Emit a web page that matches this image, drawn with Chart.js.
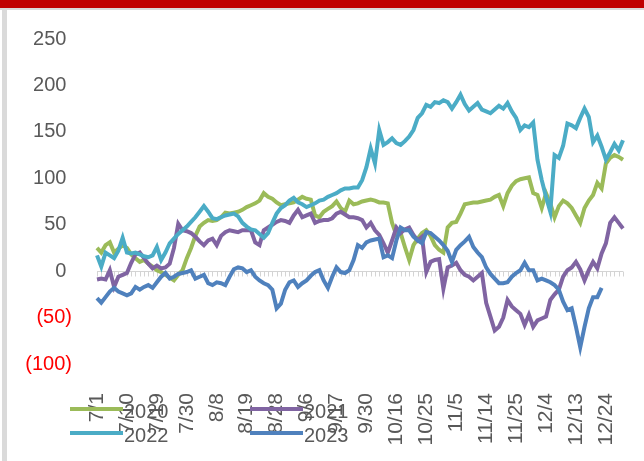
<!DOCTYPE html>
<html>
<head>
<meta charset="utf-8">
<script src="https://cdn.jsdelivr.net/npm/chart.js@4.4.1/dist/chart.umd.min.js"></script>
<style>
  html, body { margin: 0; padding: 0; background: #fff; }
  .wrap { position: relative; width: 644px; height: 461px; overflow: hidden; }
  .top-bar { position: absolute; left: 0; top: 0; width: 644px; height: 8px; background: #c00000; }
  .top-line { position: absolute; left: 0; top: 8px; width: 644px; height: 2px; background: #d9d9d9; }
  .left-bar { position: absolute; left: 2px; top: 10px; width: 5px; height: 451px; background: #dadada; }
</style>
</head>
<body>
<div class="wrap">
  <canvas id="chart"></canvas>
  <div class="top-bar"></div>
  <div class="top-line"></div>
  <div class="left-bar"></div>
</div>
<script>
// x tick labels, one every 7 trading days
const tickLabels = ["7/1", "7/10", "7/19", "7/30", "8/8", "8/19", "8/28", "9/6", "9/17",
  "9/30", "10/16", "10/25", "11/5", "11/14", "11/25", "12/4", "12/13", "12/24"];

const s2020 = [25, 20, 28, 31, 20, 24, 28, 25, 18, 14,
  10, 12, 8, 5, 1, -1, -4, -7, -10, -4,
  1, 14, 25, 38, 48, 52, 55, 54, 55, 58,
  63, 62, 63, 64, 66, 69, 71, 73, 76, 84,
  80, 78, 74, 71, 72, 73, 74, 77, 80, 78,
  77, 60, 58, 64, 67, 70, 75, 68, 64, 76,
  72, 73, 75, 76, 77, 76, 74, 74, 73, 52,
  39, 41, 26, 12, 28, 35, 41, 44, 38, 28,
  23, 20, 47, 52, 53, 62, 72, 73, 74, 74,
  75, 76, 77, 80, 82, 70, 84, 92, 97, 99,
  100, 101, 84, 82, 68, 84, 73, 58, 70, 76,
  73, 68, 60, 52, 68, 76, 82, 95, 89, 116,
  122, 125, 123, 120];

const s2021 = [-9, -8, -9, 1, -17, -6, -4, -2, 9, 18,
  20, 14, 8, 3, 6, 3, 4, 8, 25, 51,
  44, 43, 41, 37, 32, 28, 33, 35, 28, 38,
  42, 44, 43, 42, 44, 44, 44, 31, 28, 44,
  47, 50, 53, 55, 54, 52, 60, 66, 58, 60,
  62, 52, 54, 55, 55, 57, 62, 64, 61, 58,
  58, 57, 55, 47, 52, 44, 39, 30, 20, 33,
  47, 41, 45, 47, 39, 33, 37, -1, 10, 12,
  13, -19, 4, 6, 9, 1, -4, -6, -10, -6,
  -2, -34, -49, -64, -60, -50, -31, -38, -42, -46,
  -58, -47, -60, -53, -51, -49, -31, -25, -20, -6,
  1, 4, 10, 2, -10, 1, 10, 3, 19, 30,
  52, 58, 52, 46];

const s2022 = [17, 5, 20, 17, 14, 22, 36, 20, 19, 20,
  18, 16, 15, 17, 26, 12, 20, 30, 35, 40,
  44, 48, 53, 58, 64, 70, 64, 57, 56, 58,
  60, 61, 62, 59, 52, 48, 45, 44, 40, 36,
  41, 52, 62, 68, 71, 76, 79, 74, 72, 69,
  71, 73, 76, 77, 80, 82, 84, 87, 89, 89,
  90, 90, 98, 112, 132, 116, 152, 136, 139, 143,
  138, 136, 140, 145, 152, 165, 170, 179, 177, 182,
  181, 184, 182, 175, 182, 190, 180, 173, 177, 181,
  174, 172, 170, 174, 178, 175, 181, 172, 165, 152,
  157, 155, 160, 120, 98, 80, 64, 125, 122, 135,
  159, 157, 154, 165, 175, 166, 139, 146, 134, 120,
  128, 137, 130, 141];

const s2023 = [-29, -34, -28, -22, -18, -22, -24, -26, -24, -17,
  -20, -17, -15, -18, -12, -6, -2, -8, -6, -3,
  -2, -1, 1, -8, -6, -4, -13, -15, -12, -13,
  -15, -6, 2, 4, 3, -1, 1, -6, -10, -13,
  -15, -20, -40, -35, -20, -12, -10, -17, -13, -10,
  -5, -1, 1, -10, -18, -6, 4, -1, -2, 1,
  12, 28, 25, 31, 33, 34, 35, 15, 17, 14,
  33, 47, 44, 44, 37, 33, 30, 42, 41, 37,
  33, 28, 22, 10, 23, 28, 32, 37, 26, 20,
  15, 4, -3, -8, -13, -13, -12, -6, -2, 1,
  9, 1, 1, -10, -8, -10, -12, -15, -20, -33,
  -42, -40, -60, -82, -60, -40, -28, -28, -18];

const seriesNames = ["2020", "2021", "2022", "2023"];
const seriesColors = ["#9bbb59", "#8064a2", "#4bacc6", "#4f81bd"];

const labelStep = 7;
const categories = s2020.map((_, i) =>
  i % labelStep === 0 ? (tickLabels[i / labelStep] || "") : ""
);

const textColor = "#595959";
const fontFamily = "'Liberation Sans', Arial, sans-serif";

// light gray zero line with small category ticks, like the excel axis
const zeroAxis = {
  id: "zeroAxis",
  beforeDatasetsDraw(chart) {
    const { ctx, chartArea, scales } = chart;
    const y0 = Math.round(scales.y.getPixelForValue(0)) + 0.5;
    ctx.save();
    ctx.strokeStyle = "#d4d4d4";
    ctx.lineWidth = 1;
    ctx.beginPath();
    ctx.moveTo(chartArea.left, y0);
    ctx.lineTo(chartArea.right, y0);
    categories.forEach((_, i) => {
      const x = Math.round(scales.x.getPixelForValue(i)) + 0.5;
      ctx.moveTo(x, y0);
      ctx.lineTo(x, y0 + 5);
    });
    ctx.stroke();
    ctx.restore();
  },
};

// legend sits on top of the rotated date labels in the original
const overlapLegend = {
  id: "overlapLegend",
  afterDraw(chart) {
    const { ctx } = chart;
    const spots = [[70, 409], [250, 409], [70, 433], [250, 433]];
    ctx.save();
    ctx.font = "20px " + fontFamily;
    ctx.textBaseline = "middle";
    ctx.fillStyle = textColor;
    chart.data.datasets.forEach((ds, i) => {
      const [x, y] = spots[i];
      ctx.strokeStyle = ds.borderColor;
      ctx.lineWidth = 4;
      ctx.beginPath();
      ctx.moveTo(x, y);
      ctx.lineTo(x + 53, y);
      ctx.stroke();
      ctx.fillText(ds.label, x + 54, y + 3);
    });
    ctx.restore();
  },
};

const datasets = [s2020, s2021, s2022, s2023].map((data, i) => ({
  label: seriesNames[i],
  data: data,
  borderColor: seriesColors[i],
  backgroundColor: seriesColors[i],
  borderWidth: 4,
  pointRadius: 0,
  tension: 0,
  order: 4 - i,
}));

new Chart(document.getElementById("chart"), {
  type: "line",
  data: { labels: categories, datasets: datasets },
  plugins: [zeroAxis, overlapLegend],
  options: {
    responsive: true,
    maintainAspectRatio: false,
    animation: false,
    layout: { padding: { left: 0, right: 21, top: 39, bottom: 0 } },
    plugins: {
      legend: { display: false },
      tooltip: { enabled: false },
    },
    scales: {
      x: {
        grid: { display: false, drawTicks: false },
        border: { display: false },
        ticks: {
          autoSkip: false,
          maxRotation: 90,
          minRotation: 90,
          padding: 29,
          color: textColor,
          font: { size: 21, family: fontFamily },
        },
        afterFit(scale) {
          scale.height = 97;
          scale.paddingLeft = 0;
          scale.paddingRight = 0;
        },
      },
      y: {
        min: -100,
        max: 250,
        grid: { display: false, drawTicks: false },
        border: { display: false },
        ticks: {
          stepSize: 50,
          padding: 25,
          color: (c) => (c.tick.value < 0 ? "#ff0000" : textColor),
          font: { size: 20, family: fontFamily },
          callback: (v) => (v < 0 ? "(" + -v + ")" : v + " "),
        },
        afterFit(scale) {
          scale.width = 97;
        },
      },
    },
  },
});
</script>
</body>
</html>
